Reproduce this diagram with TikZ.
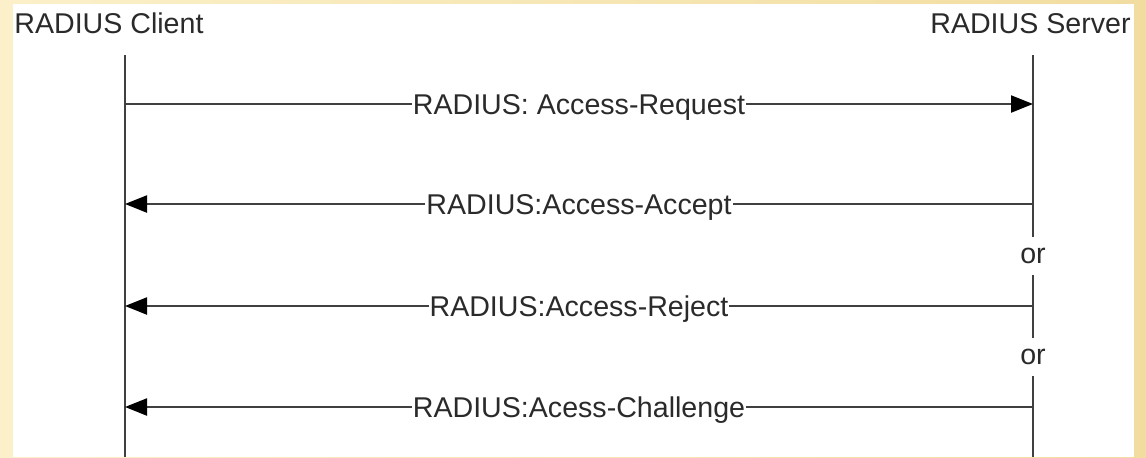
\documentclass[tikz,border=0pt]{standalone}
\usepackage{fontspec}
\setmainfont{Liberation Sans}
\usetikzlibrary{arrows.meta}
\definecolor{beigeL}{HTML}{FBF0C9}
\definecolor{beigeR}{HTML}{F1DDA0}
\definecolor{ink}{HTML}{2A2A2A}
\definecolor{wire}{HTML}{404040}
\begin{document}
\begin{tikzpicture}[x=0.5pt,y=-0.5pt,font=\fontsize{14.3}{16}\selectfont,text=ink,
 life/.style={draw=wire,line width=1.1pt},
 msg/.style={draw=wire,line width=1.1pt,-{Triangle[length=11pt,width=8.5pt,color=black,fill=black]}},
 lbl/.style={fill=white,inner xsep=0.5pt,inner ysep=0pt,anchor=base,yshift=-5pt},
 ortxt/.style={inner xsep=0pt,inner ysep=5.5pt}]
\useasboundingbox(0,0)rectangle(1146,457);
\shade[left color=beigeL,right color=beigeR](0,0)rectangle(1146,457);
\fill[white](13,4)rectangle(1134,457);
\node[anchor=base west,inner sep=0](cl)at(14,33){RADIUS Client};
\node[anchor=base east,inner sep=0](sv)at(1131,33){RADIUS Server};
\coordinate(c0)at(125,55);\coordinate(cN)at(125,457);
\coordinate(s0)at(1033,55);\coordinate(sN)at(1033,457);
\node[ortxt](or1)at(1033,256){or};
\node[ortxt](or2)at(1033,357){or};
\draw[life](c0)--(cN);
\draw[life](s0)--(or1);\draw[life](or1)--(or2);\draw[life](or2)--(sN);
\foreach \n/\y in {1/104,2/204,3/306,4/407}{\coordinate(c\n)at(125,\y);\coordinate(s\n)at(1033,\y);}
\draw[msg](c1)--node[lbl]{RADIUS: Access-Request}(s1);
\draw[msg](s2)--node[lbl]{RADIUS:Access-Accept}(c2);
\draw[msg](s3)--node[lbl]{RADIUS:Access-Reject}(c3);
\draw[msg](s4)--node[lbl]{RADIUS:Acess-Challenge}(c4);
\end{tikzpicture}
\end{document}
